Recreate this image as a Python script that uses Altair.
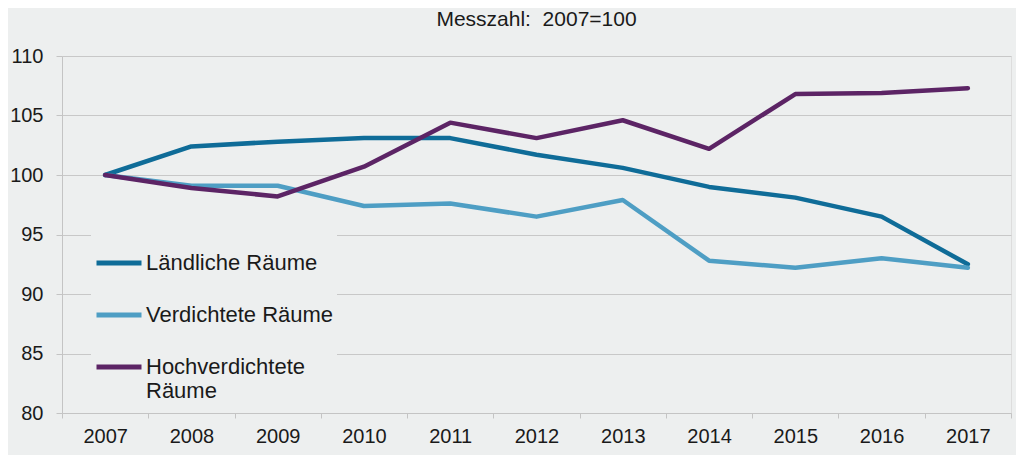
import altair as alt
import pandas as pd

years = ["2007", "2008", "2009", "2010", "2011", "2012", "2013", "2014", "2015", "2016", "2017"]
laendlich = [100.0, 102.4, 102.8, 103.1, 103.1, 101.7, 100.6, 99.0, 98.1, 96.5, 92.5]
verdichtet = [100.0, 99.1, 99.1, 97.4, 97.6, 96.5, 97.9, 92.8, 92.2, 93.0, 92.2]
hochverdichtet = [100.0, 98.9, 98.2, 100.7, 104.4, 103.1, 104.6, 102.2, 106.8, 106.9, 107.3]

series = ["Ländliche Räume", "Verdichtete Räume", "Hochverdichtete Räume"]
colors = ["#0f6c98", "#4e9ec4", "#5c2465"]

rows = []
for name, vals in zip(series, [laendlich, verdichtet, hochverdichtet]):
    for y, v in zip(years, vals):
        rows.append({"Jahr": y, "Wert": v, "Serie": name})
df = pd.DataFrame(rows)

bg = "#edefef"

chart = alt.Chart(df).mark_line(strokeWidth=4.5, strokeCap="round", strokeJoin="round").encode(
    x=alt.X("Jahr:O", sort=years,
            scale=alt.Scale(type="band", paddingInner=0, paddingOuter=0),
            axis=alt.Axis(title=None, labelAngle=0, tickBand="extent", grid=False,
                          labelFontSize=20, labelPadding=8, tickSize=5,
                          domainColor="#c4c4c4", tickColor="#c4c4c4", labelColor="#1a1a1a")),
    y=alt.Y("Wert:Q", scale=alt.Scale(domain=[80, 110], nice=False, zero=False),
            axis=alt.Axis(title=None, values=[80, 85, 90, 95, 100, 105, 110],
                          labelFontSize=20, labelPadding=13, tickSize=6,
                          gridColor="#c8c8c8", domainColor="#c4c4c4", tickColor="#c4c4c4",
                          labelColor="#1a1a1a")),
    color=alt.Color("Serie:N", sort=series,
                    scale=alt.Scale(domain=series, range=colors),
                    legend=alt.Legend(title=None, orient="none", legendX=29, legendY=179,
                                      symbolType="stroke", symbolSize=2025, symbolStrokeWidth=5,
                                      labelFontSize=22, labelColor="#1a1a1a", labelLimit=300,
                                      rowPadding=16, labelOffset=2,
                                      fillColor=bg, padding=3,
                                      labelExpr="datum.label == 'Hochverdichtete Räume' ? ['Hochverdichtete', 'Räume'] : datum.label")),
).properties(
    width=949, height=357,
    title=alt.TitleParams("Messzahl:\u00a0\u00a02007=100", fontSize=21, fontWeight="normal",
                          color="#1a1a1a", anchor="middle", offset=16),
    autosize=alt.AutoSizeParams(type="none"),
    padding={"left": 54, "top": 48, "right": 5, "bottom": 42},
    background=bg,
).configure_view(
    stroke=None, fill=bg
).configure(
    font="Liberation Sans"
)

chart.save("out.html", embed_options={"renderer": "svg", "actions": False})
